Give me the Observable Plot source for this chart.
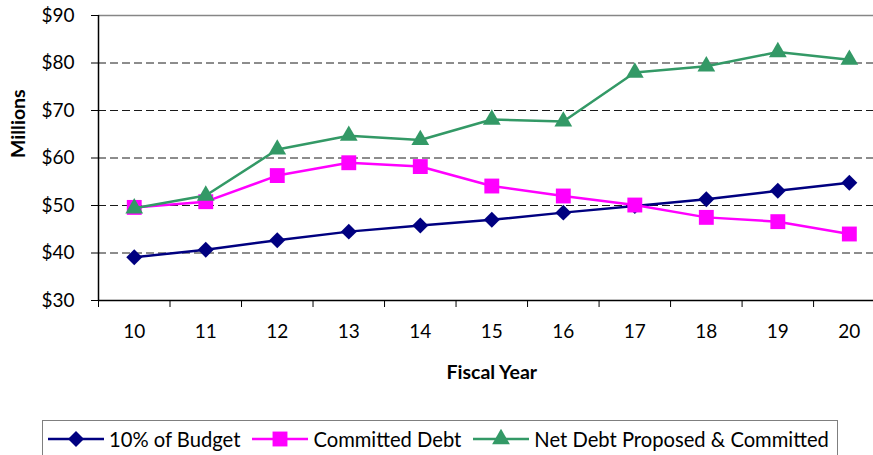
<!DOCTYPE html>
<html><head><meta charset="utf-8">
<script src="https://cdn.jsdelivr.net/npm/d3@7"></script>
<script src="https://cdn.jsdelivr.net/npm/@observablehq/plot@0.6"></script>
<style>
body{margin:0;background:#fff;font-family:Lato,sans-serif;}
#wrap{position:relative;width:873px;height:455px;overflow:hidden;background:#fff;}
#wrap svg.plot{display:block;}
#legend{position:absolute;left:42px;top:420px;width:796px;height:50px;border:1px solid #7f7f7f;box-sizing:border-box;display:flex;align-items:flex-start;padding-left:5px;padding-top:6px;font-size:20.2px;color:#000;white-space:nowrap;overflow:visible;}
.item{display:flex;align-items:center;margin-right:12px;flex-shrink:0;white-space:nowrap;}
.item svg{margin-right:5px;flex-shrink:0;}
</style></head>
<body><div id="wrap"></div>
<script>
const years = [10, 11, 12, 13, 14, 15, 16, 17, 18, 19, 20];
const budget = [39.1, 40.7, 42.7, 44.5, 45.8, 47.0, 48.5, 49.9, 51.3, 53.1, 54.8];
const committed = [49.6, 50.8, 56.3, 59.0, 58.2, 54.1, 52.0, 50.1, 47.5, 46.6, 44.0];
const netDebt = [49.4, 52.1, 61.8, 64.7, 63.8, 68.1, 67.7, 78.0, 79.3, 82.3, 80.7];
const seriesNames = ["10% of Budget", "Committed Debt", "Net Debt Proposed & Committed"];
const colors = ["#000080", "#FF00FF", "#339966"];
const symbolNames = ["diamond2", "square", "triangle"];
const symbolRadius = [7.2, 8.4, 6.6];
const yTicks = [30, 40, 50, 60, 70, 80, 90];
const xTitle = "Fiscal Year";
const yTitle = "Millions";

const seriesValues = [budget, committed, netDebt];
const rows = [];
seriesValues.forEach((vals, i) => vals.forEach((v, j) => rows.push({year: years[j], value: v, series: seriesNames[i]})));
const boundaries = years.map(y => y - 0.5).concat([years[years.length - 1] + 0.5]);

const seriesMarks = [];
seriesNames.forEach((name, i) => {
  const data = rows.filter(d => d.series === name);
  seriesMarks.push(Plot.line(data, {x: "year", y: "value", stroke: colors[i], strokeWidth: 2.5}));
  seriesMarks.push(Plot.dot(data, {x: "year", y: "value", symbol: () => symbolNames[i], fill: colors[i], stroke: "none", r: symbolRadius[i]}));
});

const chart = Plot.plot({
  width: 873, height: 400,
  marginTop: 15, marginBottom: 100, marginLeft: 98, marginRight: -11.6,
  style: {fontFamily: "Lato, sans-serif", fontSize: "19px", color: "#000", background: "#fff", overflow: "hidden"},
  x: {domain: [boundaries[0], boundaries[boundaries.length - 1]]},
  y: {domain: [yTicks[0], yTicks[yTicks.length - 1]]},
  symbol: {domain: symbolNames, range: symbolNames},
  marks: [
    Plot.ruleY(yTicks.slice(1, -1), {stroke: "#1a1a1a", strokeDasharray: "8,4", strokeWidth: 1}),
    Plot.ruleY(yTicks.slice(-1), {stroke: "#868686", strokeWidth: 1.5}),
    Plot.axisY({ticks: yTicks, tickSize: 7, tickPadding: 17, tickFormat: d => "$" + d, label: null, stroke: "#000"}),
    Plot.axisX({ticks: boundaries, tickSize: 7, tickFormat: () => "", label: null, stroke: "#000"}),
    Plot.axisX({ticks: years, tickSize: 0, tickPadding: 24, label: null}),
    Plot.ruleX([boundaries[0]], {stroke: "#000", strokeWidth: 1.5}),
    Plot.ruleY([yTicks[0]], {stroke: "#000", strokeWidth: 1.5}),
    Plot.text([yTitle], {frameAnchor: "left", dx: -80, rotate: -90, fontWeight: "bold", fontSize: 19.5}),
    Plot.text([xTitle], {frameAnchor: "bottom", dy: 78, fontWeight: "bold", fontSize: 19.5}),
    ...seriesMarks
  ]
});
const wrap = document.getElementById("wrap");
wrap.appendChild(chart);

const legend = document.createElement("div");
legend.id = "legend";
seriesNames.forEach((name, i) => {
  const item = document.createElement("div");
  item.className = "item";
  const svg = d3.create("svg").attr("width", 56).attr("height", 20);
  svg.append("line").attr("x1", 0).attr("x2", 56).attr("y1", 10).attr("y2", 10).attr("stroke", colors[i]).attr("stroke-width", 2.5);
  const symType = [d3.symbolDiamond2, d3.symbolSquare, d3.symbolTriangle][i];
  svg.append("path").attr("transform", "translate(28,10)").attr("d", d3.symbol(symType, Math.PI * symbolRadius[i] ** 2)()).attr("fill", colors[i]);
  item.appendChild(svg.node());
  const span = document.createElement("span");
  span.textContent = name;
  item.appendChild(span);
  legend.appendChild(item);
});
wrap.appendChild(legend);
</script>
</body></html>
